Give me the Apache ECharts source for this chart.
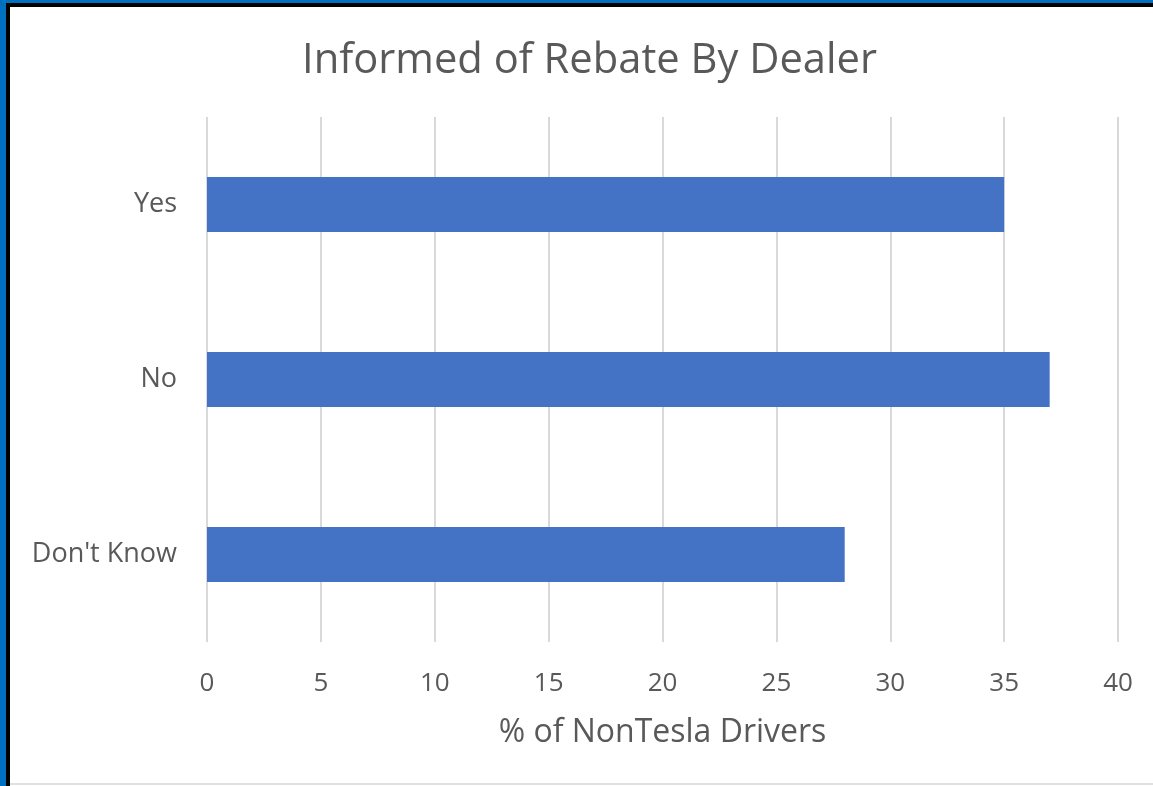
<!DOCTYPE html>
<html>
<head>
<meta charset="utf-8">
<script src="https://cdn.jsdelivr.net/npm/echarts@6/dist/echarts.min.js"></script>
<style>
  html, body { margin: 0; padding: 0; background: #fff; }
  #chart { position: absolute; left: 0; top: 0; width: 1153px; height: 786px; }
  .edge { position: absolute; }
</style>
</head>
<body>
<div id="chart"></div>
<div class="edge" style="left:0;top:0;width:1153px;height:3px;background:#0070c0"></div>
<div class="edge" style="left:6px;top:3px;width:1147px;height:4px;background:#000"></div>
<div class="edge" style="left:0;top:0;width:6px;height:786px;background:#0070c0"></div>
<div class="edge" style="left:6px;top:3px;width:4px;height:783px;background:#000"></div>
<div class="edge" style="left:10px;top:783px;width:1143px;height:2px;background:#e0e0e0"></div>
<script>
// chart data
const categories = ['Yes', 'No', "Don't Know"];
const values = [35, 37, 28];

const chart = echarts.init(document.getElementById('chart'));
const font = '"Open Sans", "Noto Sans", sans-serif';

const option = {
    animation: false,
    title: {
        text: 'Informed of Rebate By Dealer',
        left: 297,
        top: 35,
        textStyle: {
            fontFamily: font,
            fontSize: 41.7,
            fontWeight: 'normal',
            color: '#595959'
        }
    },
    grid: {
        left: 207,
        right: 35,
        top: 117,
        bottom: 144
    },
    xAxis: {
        type: 'value',
        min: 0,
        max: 40,
        interval: 5,
        axisLine: { show: false },
        axisTick: { show: false },
        splitLine: { lineStyle: { color: '#d9d9d9', width: 2 } },
        axisLabel: {
            margin: 29,
            fontFamily: font,
            fontSize: 26,
            color: '#595959'
        },
        name: '% of NonTesla Drivers',
        nameLocation: 'middle',
        nameGap: 75,
        nameTextStyle: {
            fontFamily: font,
            fontSize: 32,
            color: '#595959'
        }
    },
    yAxis: {
        type: 'category',
        data: categories,
        inverse: true,
        axisLine: { show: false },
        axisTick: { show: false },
        axisLabel: {
            margin: 30,
            fontFamily: font,
            fontSize: 27,
            color: '#595959'
        }
    },
    series: [{
        type: 'bar',
        data: values,
        barWidth: '31.5%',
        itemStyle: { color: '#4472c4' }
    }]
};

chart.setOption(option);
</script>
</body>
</html>
